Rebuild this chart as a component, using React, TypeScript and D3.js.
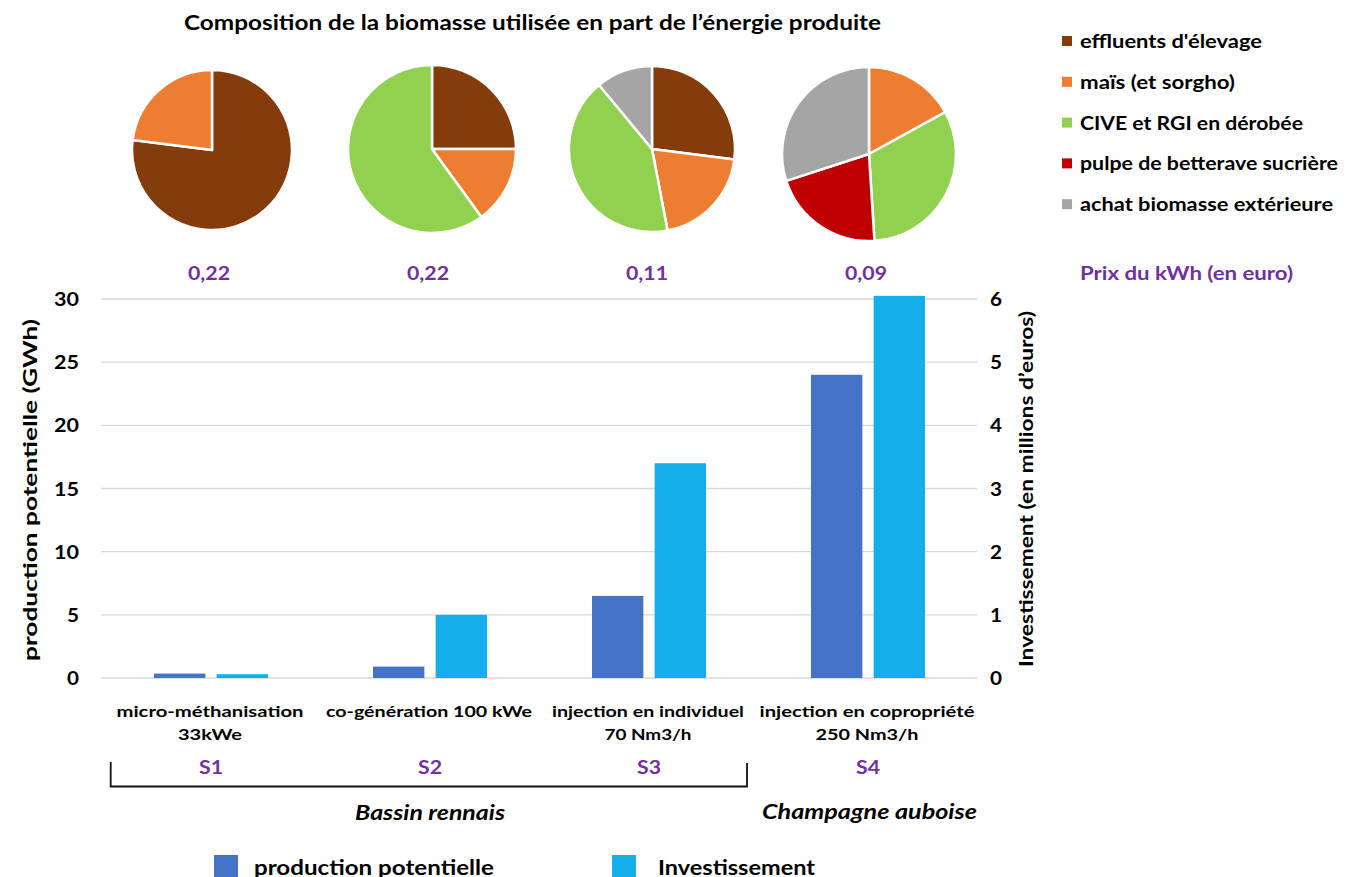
import React from "react";
import * as d3 from "d3";

// Scenarios and their descriptions
const scenarios = ["S1", "S2", "S3", "S4"];
const scenarioLabels = [
  ["micro-méthanisation", "33kWe"],
  ["co-génération 100 kWe"],
  ["injection en individuel", "70 Nm3/h"],
  ["injection en copropriété", "250 Nm3/h"],
];
const kwhPrices = ["0,22", "0,22", "0,11", "0,09"];

// Bar series
const productionGWh = [0.35, 0.9, 6.5, 24];
const investmentMEur = [0.06, 1.0, 3.4, 6.05];

// Axis ticks
const leftTicks = [0, 5, 10, 15, 20, 25, 30];
const rightTicks = [0, 1, 2, 3, 4, 5, 6];

// Biomass composition (% of energy produced) per scenario
const biomassTypes = [
  "effluents d'élevage",
  "maïs (et sorgho)",
  "CIVE et RGI en dérobée",
  "pulpe de betterave sucrière",
  "achat biomasse extérieure",
];
const effluents = [77, 25, 27, 0];
const mais = [23, 15, 20, 17];
const cive = [0, 60, 42, 32];
const pulpe = [0, 0, 0, 21];
const achat = [0, 0, 11, 30];

const biomassColors = ["#843C0C", "#ED7D31", "#92D050", "#C00000", "#A5A5A5"];
const PURPLE = "#7030A0";
const BLUE = "#4472C4";
const CYAN = "#14AEEB";
const FONT = "Lato, 'Open Sans', sans-serif";

// Text set to a fixed drawn length (the Calibri-like label widths)
function T(props: any) {
  const { w, children, ...rest } = props;
  return (
    <text
      dominantBaseline="central"
      fontWeight="bold"
      fill="#000"
      {...rest}
      {...(w ? { textLength: w, lengthAdjust: "spacingAndGlyphs" } : {})}
    >
      {children}
    </text>
  );
}

export default function App() {
  const W = 1357;
  const H = 877;

  const x = d3.scaleBand<string>().domain(scenarios).range([101.5, 977.5]).padding(0);
  const inner = d3
    .scaleBand<string>()
    .domain(["prod", "inv"])
    .range([-57, 57])
    .paddingInner(0.18)
    .paddingOuter(0);
  const yL = d3.scaleLinear().domain([0, 30]).range([678, 299]);
  const yR = d3.scaleLinear().domain([0, 6]).range([678, 299]);

  const center = (s: string) => (x(s) as number) + x.bandwidth() / 2;

  const pieGen = d3
    .pie<number>()
    .sort(null)
    .value((d) => d);

  const shares = [effluents, mais, cive, pulpe, achat];

  // layout of the pies and label widths
  const pieRadius = [80, 84, 83, 87];
  const pieCy = [150, 149, 149, 154];
  const pieDx = [1, 2, 3, 1];
  const legendW = [182, 155, 223, 258, 253];
  const catW = [
    [187, 64],
    [206],
    [192, 87],
    [215, 103],
  ];

  return (
    <svg
      width={W}
      height={H}
      style={{ position: "absolute", left: 0, top: 0, background: "#fff" }}
      fontFamily={FONT}
    >
      <rect width={W} height={H} fill="#fff" />

      {/* Title */}
      <T x={532.5} y={22} textAnchor="middle" fontSize={20} w={697}>
        Composition de la biomasse utilisée en part de l’énergie produite
      </T>

      {/* Pies */}
      {scenarios.map((s, i) => {
        const values = shares.map((arr) => arr[i]);
        const arcs = pieGen(values);
        const arc = d3.arc<d3.PieArcDatum<number>>().innerRadius(0).outerRadius(pieRadius[i]);
        return (
          <g key={s} transform={`translate(${center(s) + pieDx[i]},${pieCy[i]})`}>
            {arcs
              .filter((a) => a.value > 0)
              .map((a) => (
                <path
                  key={a.index}
                  d={arc(a) as string}
                  fill={biomassColors[a.index]}
                  stroke="#fff"
                  strokeWidth={2.5}
                  strokeLinejoin="round"
                />
              ))}
          </g>
        );
      })}

      {/* Biomass legend */}
      {biomassTypes.map((t, i) => {
        const cy = 41 + i * 40.8;
        return (
          <g key={t}>
            <rect x={1062} y={cy - 5} width={10} height={10} fill={biomassColors[i]} />
            <T x={1080} y={cy} fontSize={18} w={legendW[i]}>
              {t}
            </T>
          </g>
        );
      })}
      <T x={1080} y={272} fontSize={19} fill={PURPLE} w={213}>
        Prix du kWh (en euro)
      </T>

      {/* kWh prices */}
      {scenarios.map((s, i) => (
        <T key={s} x={center(s) - 2} y={272} textAnchor="middle" fontSize={19} fill={PURPLE} w={42}>
          {kwhPrices[i]}
        </T>
      ))}

      {/* Gridlines */}
      {leftTicks.map((t) => (
        <line key={t} x1={101} x2={977} y1={yL(t)} y2={yL(t)} stroke="#D9D9D9" strokeWidth={1.3} />
      ))}

      {/* Bars */}
      {scenarios.map((s, i) => (
        <g key={s}>
          <rect
            x={center(s) + (inner("prod") as number)}
            y={yL(productionGWh[i])}
            width={inner.bandwidth()}
            height={yL(0) - yL(productionGWh[i])}
            fill={BLUE}
          />
          <rect
            x={center(s) + (inner("inv") as number)}
            y={yR(investmentMEur[i])}
            width={inner.bandwidth()}
            height={yR(0) - yR(investmentMEur[i])}
            fill={CYAN}
          />
        </g>
      ))}

      {/* Left axis */}
      {leftTicks.map((t) => (
        <T key={t} x={79} y={yL(t)} textAnchor="end" fontSize={18} w={String(t).length > 1 ? 25 : 12}>
          {t}
        </T>
      ))}
      <T transform="translate(29,490) rotate(-90)" textAnchor="middle" fontSize={19} w={342}>
        production potentielle (GWh)
      </T>

      {/* Right axis */}
      {rightTicks.map((t) => (
        <T key={t} x={990} y={yR(t)} textAnchor="start" fontSize={18} w={12}>
          {t}
        </T>
      ))}
      <T transform="translate(1025,489) rotate(-90)" textAnchor="middle" fontSize={19} w={356}>
        Investissement (en millions d’euros)
      </T>

      {/* Category labels */}
      {scenarios.map((s, i) => (
        <g key={s}>
          {scenarioLabels[i].map((line, j) => (
            <T key={j} x={center(s) - 1} y={710 + j * 23} textAnchor="middle" fontSize={16} w={catW[i][j]}>
              {line}
            </T>
          ))}
          <T x={center(s)} y={766} textAnchor="middle" fontSize={19} fill={PURPLE} w={24}>
            {s}
          </T>
        </g>
      ))}

      {/* Region bracket */}
      <path d="M110.7,762 V786.5 H747 V763" fill="none" stroke="#111" strokeWidth={1.8} />
      <T x={430} y={812} textAnchor="middle" fontSize={20} fontStyle="italic" w={150}>
        Bassin rennais
      </T>
      <T x={869.5} y={811} textAnchor="middle" fontSize={20} fontStyle="italic" w={215}>
        Champagne auboise
      </T>

      {/* Series legend */}
      <rect x={214} y={855} width={24} height={24} fill={BLUE} />
      <T x={254} y={866} fontSize={21} w={240}>
        production potentielle
      </T>
      <rect x={612} y={855} width={24} height={24} fill={CYAN} />
      <T x={658} y={866} fontSize={21} w={157}>
        Investissement
      </T>
    </svg>
  );
}
